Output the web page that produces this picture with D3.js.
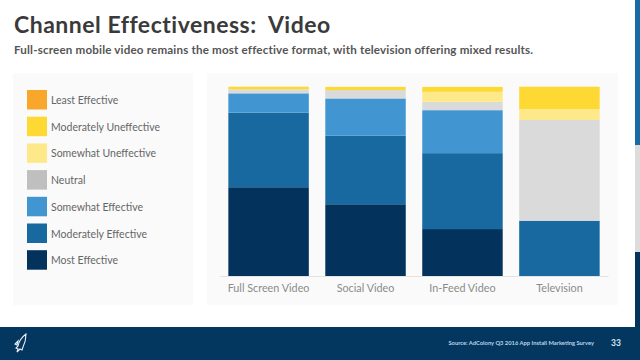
<!DOCTYPE html>
<html>
<head>
<meta charset="utf-8">
<script src="https://cdn.jsdelivr.net/npm/d3@7"></script>
<style>
  html, body { margin: 0; padding: 0; background: #fff; }
  svg { display: block; font-family: Lato, "Open Sans", sans-serif; }
</style>
</head>
<body>
<svg id="chart" width="640" height="360"></svg>
<script>
// categories along the x axis
const channels = ['Full Screen Video', 'Social Video', 'In-Feed Video', 'Television'];

// response levels, bottom of stack first
const levels = ['Most Effective', 'Moderately Effective', 'Somewhat Effective',
                'Neutral', 'Somewhat Uneffective', 'Moderately Uneffective', 'Least Effective'];

// share of respondents (%) per level, one value per channel
const mostEffective      = [46.9, 37.9, 24.8, 0];
const moderatelyEff      = [39.4, 36.2, 40.1, 29.2];
const somewhatEff        = [10.2, 19.7, 22.7, 0];
const neutral            = [2.1, 4.4, 4.4, 53.2];
const somewhatUneff      = [0, 0, 5.3, 5.8];
const moderatelyUneff    = [1.4, 1.7, 2.6, 11.8];
const leastEffective     = [0, 0, 0, 0];

const series = [mostEffective, moderatelyEff, somewhatEff, neutral,
                somewhatUneff, moderatelyUneff, leastEffective];

const barColors    = ['#03335c', '#1769a0', '#4196d1', '#dadada', '#fde98a', '#fed934', '#f9a72b'];
const swatchColors = ['#03335c', '#1769a0', '#4196d1', '#bfbfbf', '#fde98a', '#fed934', '#f9a72b'];

const svg = d3.select('#chart');

// next slide peeking in at the right edge
svg.append('rect').attr('x', 635).attr('y', 0).attr('width', 5).attr('height', 145).attr('fill', '#1a6aa3');
svg.append('rect').attr('x', 635).attr('y', 145).attr('width', 5).attr('height', 107).attr('fill', '#dcdcdc');
svg.append('rect').attr('x', 635).attr('y', 252).attr('width', 5).attr('height', 80).attr('fill', '#03335c');

// title block
svg.append('text')
  .attr('x', 14).attr('y', 33)
  .attr('font-size', 23).attr('font-weight', 700)
  .attr('letter-spacing', 0.5)
  .attr('fill', '#3a3a3a')
  .attr('xml:space', 'preserve')
  .text('Channel Effectiveness:  Video');

svg.append('text')
  .attr('x', 14).attr('y', 54)
  .attr('font-size', 11.6).attr('font-weight', 700)
  .attr('letter-spacing', 0.18)
  .attr('fill', '#555')
  .text('Full-screen mobile video remains the most effective format, with television offering mixed results.');

// panels
svg.append('rect').attr('x', 13).attr('y', 73).attr('width', 180).attr('height', 232).attr('fill', '#fafafa');
svg.append('rect').attr('x', 207).attr('y', 73).attr('width', 411).attr('height', 232).attr('fill', '#fafafa');

// legend, top entry = last level
const legend = svg.append('g').attr('transform', 'translate(27,90)');
const legendItems = legend.selectAll('g')
  .data(levels.map((d, i) => ({ name: d, color: swatchColors[i] })).reverse())
  .join('g')
    .attr('transform', (d, i) => `translate(0,${i * 26.7})`);

legendItems.append('rect')
  .attr('width', 20).attr('height', 19.5)
  .attr('fill', d => d.color);

legendItems.append('text')
  .attr('x', 24).attr('y', 14)
  .attr('font-size', 10.5).attr('fill', '#666')
  .text(d => d.name);

// bars
const x = d3.scaleBand()
  .domain(channels)
  .range([220, 608])
  .paddingInner(0.17)
  .paddingOuter(0.086);

const y = d3.scaleLinear()
  .domain([0, 100])
  .range([276, 86.7]);

const table = channels.map((c, j) => {
  const row = { channel: c };
  levels.forEach((l, i) => { row[l] = series[i][j]; });
  return row;
});

const stacked = d3.stack().keys(levels)(table);

svg.append('g')
  .selectAll('g')
  .data(stacked)
  .join('g')
    .attr('fill', (d, i) => barColors[i])
  .selectAll('rect')
  .data(d => d)
  .join('rect')
    .attr('x', d => x(d.data.channel))
    .attr('width', x.bandwidth())
    .attr('y', d => y(d[1]))
    .attr('height', d => Math.max(0, y(d[0]) - y(d[1])));

// baseline + category labels
const xAxis = svg.append('g')
  .attr('transform', 'translate(0,276)')
  .call(d3.axisBottom(x).tickSize(0).tickPadding(8));

xAxis.select('.domain').attr('stroke', '#e3e3e3');
xAxis.selectAll('text')
  .attr('font-family', 'Lato, "Open Sans", sans-serif')
  .attr('font-size', 10.8)
  .attr('fill', '#8a8a8a');

// footer
svg.append('rect').attr('x', 0).attr('y', 327).attr('width', 640).attr('height', 33).attr('fill', '#04375f');

svg.append('text')
  .attr('x', 594).attr('y', 345)
  .attr('text-anchor', 'end')
  .attr('font-size', 5.8).attr('font-weight', 700)
  .attr('fill', '#b9d3ea')
  .text('Source:  AdColony Q3 2016 App Install Marketing Survey');

svg.append('text')
  .attr('x', 611).attr('y', 346)
  .attr('font-size', 8.5).attr('font-weight', 700)
  .attr('fill', '#d6e4f1')
  .text('33');

// rocket mark
svg.append('path')
  .attr('d', 'M26,334 C22,337 19,341 18,346 L16,348 L18,349 L17,352 L20,349 L22,350 L23,347 C25,343 26,339 26,334 Z M18,341 L15,344 L17,345 Z')
  .attr('fill', 'none')
  .attr('stroke', '#e9eef4')
  .attr('stroke-width', 1.1);
</script>
</body>
</html>
